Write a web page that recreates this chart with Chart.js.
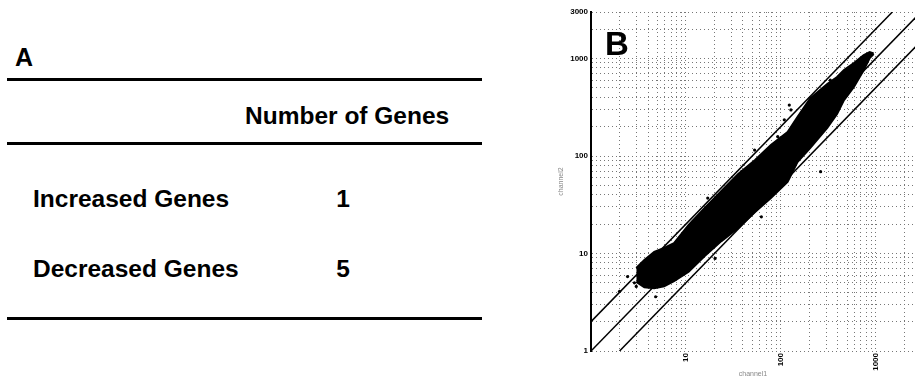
<!DOCTYPE html>
<html>
<head>
<meta charset="utf-8">
<script src="https://cdn.jsdelivr.net/npm/chart.js@4.4.1/dist/chart.umd.min.js"></script>
<style>
  body { margin: 0; background: #fff; width: 919px; height: 379px; overflow: hidden; position: relative;
         font-family: "Liberation Sans", Arial, sans-serif; }
  .t { position: absolute; font-weight: bold; color: #000; white-space: nowrap; line-height: 1; }
  .rule { position: absolute; left: 7px; width: 475px; height: 3px; background: #000; }
  #panelB { position: absolute; left: 555px; top: 0; width: 364px; height: 379px; }
</style>
</head>
<body>
<div class="t" style="left:15px; top:45px; font-size:25px;">A</div>
<div class="rule" style="top:78px"></div>
<div class="t" id="colTitle" style="left:245px; top:104px; font-size:24.5px;"></div>
<div class="rule" style="top:142px"></div>
<div id="rows"></div>
<div class="rule" style="top:317px"></div>

<div id="panelB"><canvas id="chartB"></canvas></div>
<div class="t" style="left:605px; top:27px; font-size:33px;">B</div>

<script>
// panel A table
const columnTitle = "Number of Genes";
const rowLabels = ["Increased Genes", "Decreased Genes"];
const geneCounts = [1, 5];

// panel B: dense cloud of genes (upper / lower edge)
const cloudX     = [3.0, 3.65, 4.64, 5.9, 7.5, 10.7, 15.8, 23.7, 35.6, 53.6, 78.7, 118, 150, 205, 309, 392, 464, 590, 750, 866, 953];
const cloudUpper = [7.1, 8.6, 10.4, 11.4, 12.8, 19.6, 29.3, 43.8, 65.4, 91, 130, 176, 251, 393, 547, 646, 762, 899, 1086, 1166, 1130];
const cloudLower = [5.1, 4.5, 4.4, 4.6, 5.2, 6.5, 9.4, 13.4, 18.3, 26.7, 37.1, 54.1, 86.7, 121, 194, 270, 375, 510, 762, 1012, 1112];

// single genes lying outside the cloud
const outlierX = [2.0, 2.43, 2.87, 3.0, 4.8, 20.3, 22, 17, 38.7, 53, 62.5, 93, 109, 123, 128, 263, 333];
const outlierY = [4.1, 5.8, 5.0, 4.6, 3.6, 8.9, 14.9, 37, 69, 115, 23.8, 158, 235, 333, 297, 69, 600];

// 2-fold guide lines: y = 2x, y = x, y = x/2
const foldStartX = [1, 1, 2];
const foldStartY = [2, 1, 1];
const foldEndX   = [1500, 3000, 3000];
const foldEndY   = [3000, 3000, 1500];

const xTickLabels = [10, 100, 1000];
const yTickLabels = [1, 10, 100, 1000, 3000];

document.getElementById("colTitle").innerText = columnTitle;
const rowTops = [187, 257];
rowLabels.forEach((label, i) => {
  const rows = document.getElementById("rows");
  const l = document.createElement("div");
  l.className = "t";
  l.style.cssText = `left:33px; top:${rowTops[i]}px; font-size:24.5px;`;
  l.innerText = label;
  rows.appendChild(l);
  const n = document.createElement("div");
  n.className = "t";
  n.style.cssText = `left:323px; width:40px; text-align:center; top:${rowTops[i]}px; font-size:24.5px;`;
  n.innerText = geneCounts[i];
  rows.appendChild(n);
});

function logGrid(max) {
  const out = [];
  for (let d = 1; d <= 1000; d *= 10) {
    for (let k = 1; k <= 9; k++) {
      if (k * d <= max) out.push(k * d);
    }
  }
  return out;
}
const xGrid = logGrid(2600);
const yGrid = logGrid(3000);

const pts = (xs, ys) => xs.map((x, i) => ({ x: x, y: ys[i] }));
const tickFont = { family: "Liberation Sans", size: 8, weight: "bold" };

const datasets = [
  {
    data: pts(cloudX, cloudUpper),
    borderColor: "#000", backgroundColor: "#000", borderWidth: 2,
    fill: "+1", pointRadius: 0
  },
  {
    data: pts(cloudX, cloudLower),
    borderColor: "#000", borderWidth: 2, fill: false, pointRadius: 0
  },
  {
    data: pts(outlierX, outlierY),
    showLine: false, pointRadius: 1.6, pointBackgroundColor: "#000", pointBorderWidth: 0
  }
];
foldStartX.forEach((x, i) => {
  datasets.push({
    data: [{ x: x, y: foldStartY[i] }, { x: foldEndX[i], y: foldEndY[i] }],
    borderColor: "#000", borderWidth: 1.5, fill: false, pointRadius: 0
  });
});

new Chart(document.getElementById("chartB"), {
  type: "line",
  data: { datasets: datasets },
  options: {
    responsive: true,
    maintainAspectRatio: false,
    animation: false,
    layout: { padding: { top: 12, right: -3, left: 0, bottom: 0 } },
    plugins: { legend: { display: false }, tooltip: { enabled: false } },
    scales: {
      x: {
        type: "logarithmic", min: 1, max: 2600,
        afterBuildTicks: s => { s.ticks = xGrid.map(v => ({ value: v })); },
        afterFit: s => { s.height = 28; s.paddingLeft = 0; s.paddingRight = 0; },
        grid: { color: "#777", lineWidth: 1, drawTicks: false },
        border: { display: false, dash: [1, 3] },
        ticks: {
          autoSkip: false, minRotation: 90, maxRotation: 90, padding: 2,
          font: tickFont, color: "#000",
          callback: v => xTickLabels.includes(v) ? String(v) : ""
        },
        title: { display: true, text: "channel1", color: "#888",
                 font: { family: "Liberation Sans", size: 7 }, padding: { top: 1, bottom: 1 } }
      },
      y: {
        type: "logarithmic", min: 1, max: 3000,
        afterBuildTicks: s => { s.ticks = yGrid.map(v => ({ value: v })); },
        afterFit: s => { s.width = 36; s.paddingTop = 0; s.paddingBottom = 0; },
        grid: { color: "#777", lineWidth: 1, drawTicks: false },
        border: { display: true, color: "#000", width: 2, dash: [1, 3] },
        ticks: {
          autoSkip: false, padding: 3, font: tickFont, color: "#000",
          callback: v => yTickLabels.includes(v) ? String(v) : ""
        },
        title: { display: true, text: "channel2", color: "#888",
                 font: { family: "Liberation Sans", size: 7 }, padding: { top: 2, bottom: 2 } }
      }
    }
  }
});
</script>
</body>
</html>
